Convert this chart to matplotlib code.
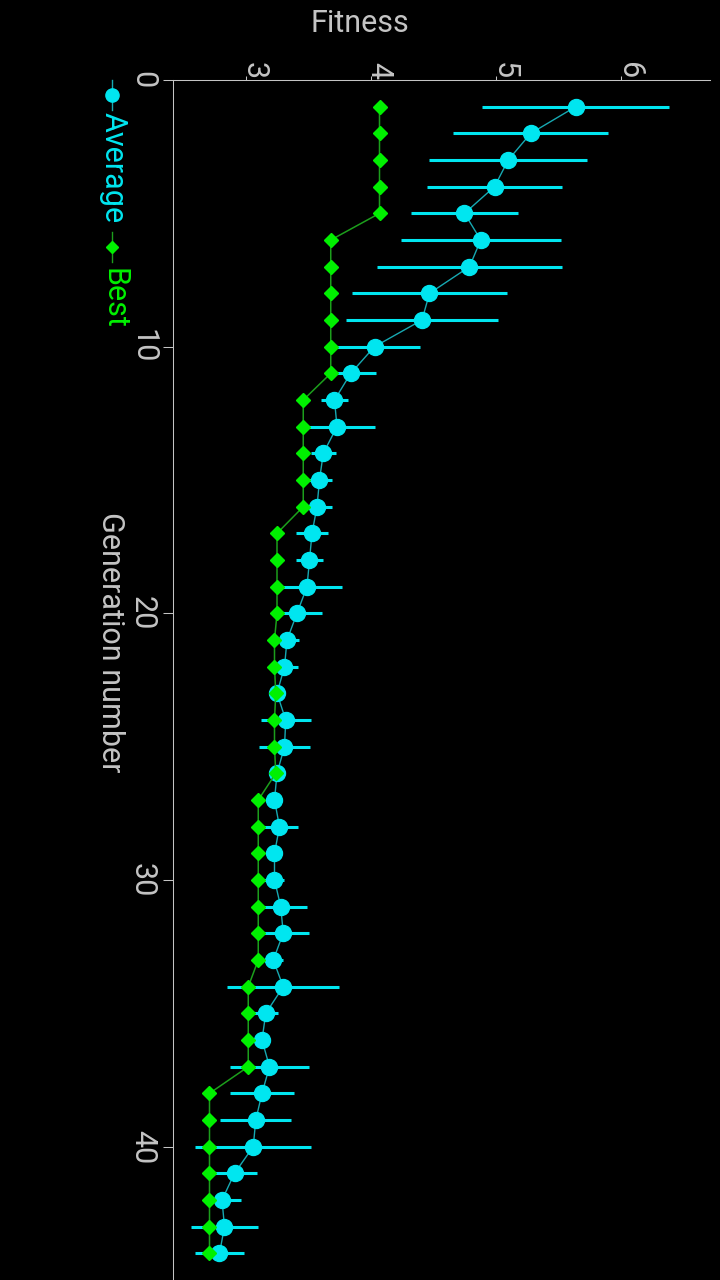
import numpy as np
import matplotlib
matplotlib.use("Agg")
from matplotlib import pyplot as plt
from matplotlib.lines import Line2D

plt.rcParams['font.family'] = ['Roboto', 'DejaVu Sans']

# generation index
generations = np.arange(1, 45)

# mean fitness of the population per generation
average = [5.64, 5.28, 5.10, 4.99, 4.75, 4.88, 4.79, 4.47, 4.41, 4.03,
           3.84, 3.71, 3.73, 3.62, 3.59, 3.57, 3.53, 3.51, 3.49, 3.41,
           3.33, 3.31, 3.25, 3.32, 3.31, 3.25, 3.23, 3.27, 3.23, 3.23,
           3.28, 3.30, 3.22, 3.30, 3.16, 3.13, 3.19, 3.13, 3.08, 3.06,
           2.91, 2.81, 2.83, 2.79]

# spread (half width of the error bar)
spread = [0.75, 0.62, 0.63, 0.54, 0.43, 0.64, 0.74, 0.62, 0.61, 0.36,
          0.20, 0.11, 0.30, 0.10, 0.10, 0.12, 0.125, 0.105, 0.28, 0.20,
          0.10, 0.11, 0.0, 0.20, 0.20, 0.0, 0.0, 0.15, 0.0, 0.08,
          0.21, 0.21, 0.08, 0.45, 0.10, 0.0, 0.32, 0.26, 0.285, 0.465,
          0.18, 0.15, 0.27, 0.195]

# best fitness per generation
best = [4.07, 4.07, 4.07, 4.07, 4.07, 3.68, 3.68, 3.68, 3.68, 3.68,
        3.68, 3.46, 3.46, 3.46, 3.46, 3.46, 3.25, 3.25, 3.25, 3.25,
        3.23, 3.23, 3.24, 3.23, 3.23, 3.24, 3.10, 3.10, 3.10, 3.10,
        3.10, 3.10, 3.10, 3.02, 3.02, 3.02, 3.02, 2.71, 2.71, 2.71,
        2.71, 2.71, 2.71, 2.71]

fitness_ticks = [3, 4, 5, 6]
generation_ticks = [0, 10, 20, 30, 40]

W, H = 720, 1280
cyan = '#00e6f0'
teal = '#17a9b2'
green = '#00f000'
dark_green = '#1c9e1c'
grey = '#c4c4c4'
fs = 22

fig = plt.figure(figsize=(W / 100, H / 100), dpi=100, facecolor='black')
ax = fig.add_axes([173 / W, 0, (710 - 173) / W, 1200 / H], facecolor='black')

ax.errorbar(average, generations, xerr=spread, fmt='none', ecolor=cyan,
            elinewidth=2.2, capsize=0, zorder=2)
ax.plot(average, generations, '-', color=teal, lw=1.0, zorder=2.5)
ax.plot(average, generations, 'o', ms=11.5, color=cyan, mec=cyan, zorder=3)
ax.plot(best, generations, '-', color=dark_green, lw=1.1, zorder=4)
ax.plot(best, generations, 'D', ms=7.4, color=green, mec=green, zorder=5)

ax.set_xlim(2.418, 6.714)
ax.set_ylim(45, 0)

for side in ['right', 'bottom']:
    ax.spines[side].set_visible(False)
for side in ['left', 'top']:
    ax.spines[side].set_color(grey)
    ax.spines[side].set_linewidth(0.75)

ax.xaxis.tick_top()
ax.set_xticks(fitness_ticks)
ax.set_yticks(generation_ticks)
ax.tick_params(axis='x', colors=grey, labelsize=fs, length=3.0, width=0.75, pad=-2.2)
ax.tick_params(axis='y', colors=grey, labelsize=fs, length=7.2, width=0.75, pad=4.3)
plt.setp(ax.get_xticklabels(), rotation=270, rotation_mode='anchor',
         ha='right', va='baseline')
plt.setp(ax.get_yticklabels(), rotation=270, rotation_mode='anchor',
         ha='center', va='top')

ax.xaxis.set_label_position('top')
ax.set_xlabel('Fitness', fontsize=fs, color=grey, va='baseline', ha='center')
ax.xaxis.set_label_coords((360 - 173) / 537, (1280 - 32) / 1200)
ax.set_ylabel('Generation number', fontsize=fs, color=grey, rotation=270,
              rotation_mode='anchor', ha='center', va='baseline')
ax.yaxis.set_label_coords((102 - 173) / 537, (1280 - 642) / 1200)

# legend, drawn by hand because it is rotated with the chart
def fx(px):
    return px / W


def fy(py):
    return 1 - py / H


legend_items = [('Average', 'o', 9.5, cyan, teal, 80, 110, 112),
                ('Best', 'D', 6.4, green, dark_green, 232, 262, 268)]
for name, mk, ms, col, lcol, y0, y1, ty in legend_items:
    fig.add_artist(Line2D([fx(111.7), fx(111.7)], [fy(y0), fy(y1)],
                          color=lcol, lw=1.0, transform=fig.transFigure))
    fig.add_artist(Line2D([fx(111.7)], [fy((y0 + y1) / 2)], marker=mk, ms=ms,
                          color=col, mec=col, transform=fig.transFigure))
    fig.text(fx(105), fy(ty), name, color=col, fontsize=fs, rotation=270,
             rotation_mode='anchor', ha='left', va='baseline')

fig.savefig('out.png', dpi=100, facecolor='black')
